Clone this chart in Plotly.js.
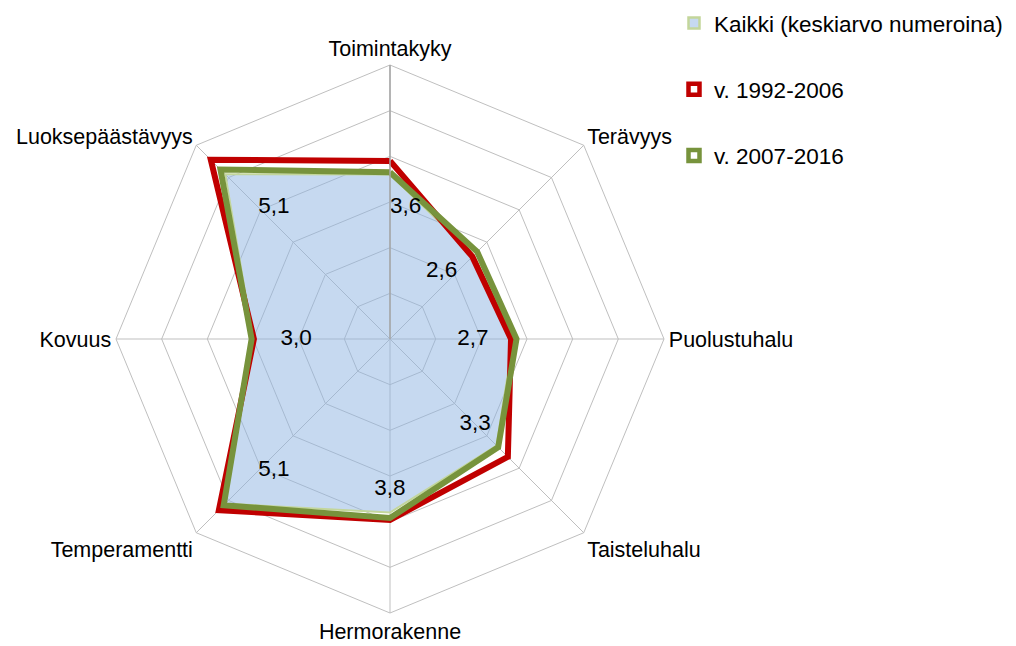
<!DOCTYPE html>
<html>
<head>
<meta charset="utf-8">
<script src="https://cdn.plot.ly/plotly-3.0.1.min.js"></script>
<style>html,body{margin:0;padding:0;background:#fff;}#chart{width:1016px;height:646px;}</style>
</head>
<body>
<div id="chart"></div>
<script>
const categories = ['Toimintakyky','Terävyys','Puolustuhalu','Taisteluhalu','Hermorakenne','Temperamentti','Kovuus','Luoksepäästävyys'];
const kaikki = [3.6, 2.6, 2.7, 3.3, 3.8, 5.1, 3.0, 5.1];
const v1992 = [3.9, 2.55, 2.65, 3.65, 3.96, 5.3, 2.98, 5.55];
const v2007 = [3.65, 2.7, 2.77, 3.35, 3.92, 5.15, 3.03, 5.25];
const seriesNames = ['Kaikki (keskiarvo numeroina)', 'v. 1992-2006', 'v. 2007-2016'];

const close = a => a.concat([a[0]]);
const thetaC = close(categories);
const labelText = kaikki.map(v => v.toFixed(1).replace('.', ','));
const labelPos = ['middle right','middle left','middle left','middle center','bottom center','middle right','middle right','middle right'];

const FONT = 'Liberation Sans, Arial, sans-serif';
const traces = [
  {type:'scatterpolar', r: close(kaikki), theta: thetaC, mode:'lines', fill:'toself',
   fillcolor:'rgba(141,180,226,0.5)', line:{color:'#c3d69b', width:2}, showlegend:false, hoverinfo:'skip'},
  {type:'scatterpolar', r: close(v1992), theta: thetaC, mode:'lines',
   line:{color:'#c00000', width:6}, showlegend:false, hoverinfo:'skip'},
  {type:'scatterpolar', r: close(v2007), theta: thetaC, mode:'lines',
   line:{color:'#77933c', width:6}, showlegend:false, hoverinfo:'skip'},
  {type:'scatterpolar', r: kaikki.map(v => v*0.8), theta: categories, mode:'text',
   text: labelText, textposition: labelPos, textfont:{family:FONT, size:22.5, color:'#000'},
   showlegend:false, hoverinfo:'skip'},
  // legend entries
  {type:'scatterpolar', r:[null], theta:[categories[0]], mode:'markers', name: seriesNames[0], legendgroup:'a',
   marker:{symbol:'square', size:11, color:'#c6d9f1', line:{color:'#c3d69b', width:2.5}}},
  {type:'scatterpolar', r:[null], theta:[categories[0]], mode:'markers', name: seriesNames[1], legendgroup:'b',
   marker:{symbol:'square', size:11, color:'#ffffff', line:{color:'#c00000', width:4.5}}},
  {type:'scatterpolar', r:[null], theta:[categories[0]], mode:'markers', name: seriesNames[2], legendgroup:'c',
   marker:{symbol:'square', size:11, color:'#ffffff', line:{color:'#77933c', width:4.5}}}
];

const cx = 390, cy = 339, R = 274, W = 1016, H = 646;
const layout = {
  width: W, height: H,
  margin:{l:0, r:0, t:0, b:0},
  paper_bgcolor:'#fff',
  font:{family: FONT, color:'#000'},
  showlegend: true,
  legend:{x:(714-40)/W, xanchor:'left', y:0.997, yanchor:'top', font:{family:FONT, size:22.5, color:'#000'},
          tracegroupgap: 34, bgcolor:'rgba(0,0,0,0)'},
  polar:{
    domain:{x:[(cx-R)/W, (cx+R)/W], y:[(H-cy-R)/H, (H-cy+R)/H]},
    bgcolor:'#fff',
    gridshape:'linear',
    angularaxis:{type:'category', direction:'clockwise', rotation:90,
      showline:true, linecolor:'#bfbfbf', linewidth:1, gridcolor:'#bfbfbf', gridwidth:1,
      ticks:'', tickfont:{family:FONT, size:21.5, color:'#000'}},
    radialaxis:{range:[0,6], dtick:1, showticklabels:false, ticks:'', angle:90,
      showline:true, linecolor:'#a6a6a6', linewidth:1.5, gridcolor:'#bfbfbf', gridwidth:1}
  }
};
Plotly.newPlot('chart', traces, layout, {displayModeBar:false, staticPlot:true});
</script>
</body>
</html>
